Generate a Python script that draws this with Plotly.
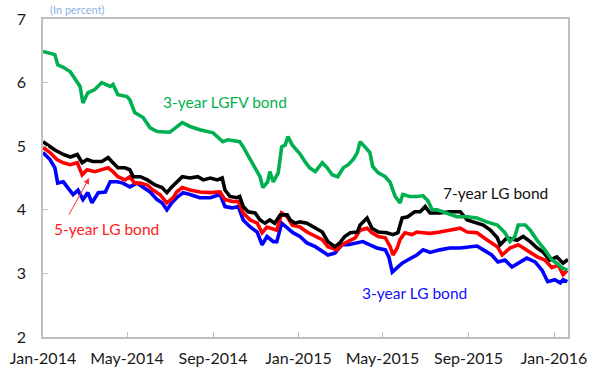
import plotly.graph_objects as go

# 3-year LGFV bond yield (per cent)
lgfv3_dates = ["2014-01-01", "2014-01-18", "2014-01-22", "2014-01-30", "2014-02-09", "2014-02-16", "2014-02-23",
               "2014-02-27", "2014-03-06", "2014-03-16", "2014-03-26", "2014-04-07", "2014-04-11", "2014-04-18",
               "2014-05-01", "2014-05-05", "2014-05-12", "2014-05-24", "2014-06-03", "2014-06-13", "2014-06-21",
               "2014-07-01", "2014-07-06", "2014-07-19", "2014-07-30", "2014-08-13", "2014-09-01", "2014-09-15",
               "2014-09-22", "2014-10-09", "2014-10-14", "2014-10-24", "2014-11-07", "2014-11-11", "2014-11-18",
               "2014-11-21", "2014-11-26", "2014-12-03", "2014-12-08", "2014-12-13", "2014-12-17", "2014-12-23",
               "2014-12-31", "2015-01-03", "2015-01-10", "2015-01-17", "2015-01-25", "2015-02-04", "2015-02-11",
               "2015-02-18", "2015-02-26", "2015-03-06", "2015-03-13", "2015-03-20", "2015-03-26", "2015-03-30",
               "2015-04-06", "2015-04-13", "2015-04-17", "2015-04-25", "2015-05-05", "2015-05-12", "2015-05-19",
               "2015-05-26", "2015-05-30", "2015-06-09", "2015-06-19", "2015-06-28", "2015-07-05", "2015-07-11",
               "2015-07-18", "2015-08-01", "2015-08-15", "2015-08-30", "2015-09-13", "2015-09-27", "2015-10-12",
               "2015-10-23", "2015-10-30", "2015-11-06", "2015-11-11", "2015-11-21", "2015-11-28", "2015-12-08",
               "2015-12-19", "2015-12-29", "2016-01-05", "2016-01-12", "2016-01-20"]
lgfv3_vals = [6.49, 6.44, 6.28, 6.24, 6.17, 6.05, 5.94,
              5.68, 5.84, 5.89, 6.00, 5.94, 5.97, 5.81,
              5.78, 5.73, 5.53, 5.45, 5.29, 5.23, 5.23,
              5.22, 5.26, 5.37, 5.31, 5.26, 5.21, 5.07,
              5.10, 5.07, 4.99, 4.79, 4.52, 4.35, 4.44,
              4.60, 4.44, 4.58, 4.99, 5.02, 5.15, 5.02,
              4.91, 4.88, 4.76, 4.66, 4.60, 4.74, 4.66,
              4.55, 4.52, 4.66, 4.71, 4.79, 4.90, 5.07,
              4.99, 4.90, 4.68, 4.58, 4.52, 4.43, 4.21,
              4.11, 4.24, 4.21, 4.21, 4.22, 4.14, 4.00,
              4.00, 3.95, 3.89, 3.89, 3.87, 3.81, 3.76,
              3.64, 3.50, 3.58, 3.76, 3.76, 3.68, 3.52,
              3.37, 3.21, 3.16, 3.09, 3.05]

# 7-year LG bond yield
lg7_dates = ["2014-01-01", "2014-01-11", "2014-01-18", "2014-01-30", "2014-02-09", "2014-02-19", "2014-02-26",
             "2014-03-05", "2014-03-13", "2014-03-26", "2014-04-04", "2014-04-11", "2014-04-18", "2014-04-28",
             "2014-05-05", "2014-05-10", "2014-05-20", "2014-05-30", "2014-06-10", "2014-06-20", "2014-06-27",
             "2014-07-04", "2014-07-11", "2014-07-19", "2014-07-30", "2014-08-10", "2014-08-18", "2014-08-28",
             "2014-09-07", "2014-09-14", "2014-09-18", "2014-09-25", "2014-10-05", "2014-10-09", "2014-10-14",
             "2014-10-21", "2014-10-31", "2014-11-07", "2014-11-14", "2014-11-21", "2014-11-28", "2014-12-06",
             "2014-12-16", "2014-12-20", "2014-12-27", "2015-01-03", "2015-01-13", "2015-01-25", "2015-02-04",
             "2015-02-12", "2015-02-22", "2015-03-01", "2015-03-08", "2015-03-16", "2015-03-26", "2015-03-30",
             "2015-04-09", "2015-04-16", "2015-04-25", "2015-05-07", "2015-05-16", "2015-05-23", "2015-05-29",
             "2015-06-06", "2015-06-16", "2015-06-24", "2015-07-01", "2015-07-08", "2015-07-22", "2015-08-05",
             "2015-08-20", "2015-08-30", "2015-09-07", "2015-09-22", "2015-10-02", "2015-10-12", "2015-10-16",
             "2015-10-26", "2015-11-09", "2015-11-18", "2015-11-28", "2015-12-08", "2015-12-16", "2015-12-26",
             "2016-01-05", "2016-01-14", "2016-01-21"]
lg7_vals = [5.07, 4.99, 4.94, 4.87, 4.83, 4.87, 4.74,
            4.79, 4.76, 4.76, 4.82, 4.74, 4.66, 4.66,
            4.63, 4.52, 4.52, 4.47, 4.39, 4.35, 4.27,
            4.36, 4.44, 4.52, 4.50, 4.52, 4.47, 4.50,
            4.47, 4.50, 4.31, 4.21, 4.19, 4.21, 4.05,
            3.97, 3.95, 3.84, 3.79, 3.84, 3.79, 3.92,
            3.92, 3.84, 3.79, 3.81, 3.79, 3.71, 3.65,
            3.50, 3.42, 3.48, 3.58, 3.64, 3.65, 3.76,
            3.87, 3.71, 3.65, 3.64, 3.61, 3.64, 3.87,
            3.89, 3.97, 3.97, 4.05, 3.95, 3.95, 3.97,
            3.97, 3.84, 3.81, 3.76, 3.68, 3.56, 3.45,
            3.56, 3.52, 3.58, 3.50, 3.40, 3.34, 3.21,
            3.26, 3.16, 3.22]

# 5-year LG bond yield
lg5_dates = ["2014-01-01", "2014-01-11", "2014-01-21", "2014-01-30", "2014-02-09", "2014-02-19", "2014-02-26",
             "2014-03-05", "2014-03-16", "2014-03-26", "2014-04-04", "2014-04-11", "2014-04-18", "2014-04-28",
             "2014-05-05", "2014-05-12", "2014-05-20", "2014-05-30", "2014-06-07", "2014-06-17", "2014-06-27",
             "2014-07-06", "2014-07-11", "2014-07-19", "2014-07-30", "2014-08-13", "2014-08-28", "2014-09-11",
             "2014-09-18", "2014-09-29", "2014-10-07", "2014-10-14", "2014-10-24", "2014-11-03", "2014-11-10",
             "2014-11-17", "2014-11-24", "2014-12-01", "2014-12-08", "2014-12-16", "2014-12-23", "2014-12-31",
             "2015-01-03", "2015-01-13", "2015-01-25", "2015-02-04", "2015-02-12", "2015-02-25", "2015-03-04",
             "2015-03-13", "2015-03-23", "2015-03-30", "2015-04-09", "2015-04-16", "2015-04-25", "2015-05-05",
             "2015-05-12", "2015-05-16", "2015-05-22", "2015-05-26", "2015-06-02", "2015-06-12", "2015-06-19",
             "2015-06-28", "2015-07-08", "2015-07-22", "2015-08-05", "2015-08-20", "2015-08-30", "2015-09-13",
             "2015-09-27", "2015-10-12", "2015-10-19", "2015-10-30", "2015-11-11", "2015-11-23", "2015-12-08",
             "2015-12-19", "2015-12-29", "2016-01-07", "2016-01-14", "2016-01-20"]
lg5_vals = [4.98, 4.90, 4.79, 4.74, 4.71, 4.74, 4.55,
            4.63, 4.60, 4.63, 4.66, 4.60, 4.52, 4.47,
            4.52, 4.42, 4.42, 4.39, 4.31, 4.24, 4.11,
            4.19, 4.28, 4.35, 4.31, 4.28, 4.27, 4.28,
            4.16, 4.13, 4.13, 3.95, 3.84, 3.79, 3.64,
            3.73, 3.71, 3.68, 3.95, 3.89, 3.76, 3.73,
            3.73, 3.65, 3.58, 3.53, 3.42, 3.37, 3.45,
            3.50, 3.56, 3.68, 3.71, 3.64, 3.58, 3.56,
            3.42, 3.29, 3.40, 3.53, 3.64, 3.61, 3.65,
            3.64, 3.63, 3.65, 3.68, 3.71, 3.65, 3.64,
            3.53, 3.42, 3.29, 3.40, 3.45, 3.37, 3.26,
            3.21, 3.09, 3.13, 2.98, 3.05]

# 3-year LG bond yield
lg3_dates = ["2014-01-01", "2014-01-11", "2014-01-18", "2014-01-22", "2014-01-30", "2014-02-06", "2014-02-13",
             "2014-02-20", "2014-02-27", "2014-03-06", "2014-03-12", "2014-03-21", "2014-03-31", "2014-04-07",
             "2014-04-17", "2014-04-25", "2014-05-05", "2014-05-15", "2014-05-24", "2014-06-03", "2014-06-13",
             "2014-06-20", "2014-06-27", "2014-07-04", "2014-07-11", "2014-07-20", "2014-07-30", "2014-08-13",
             "2014-08-28", "2014-09-11", "2014-09-18", "2014-09-28", "2014-10-07", "2014-10-14", "2014-10-24",
             "2014-11-03", "2014-11-10", "2014-11-17", "2014-11-26", "2014-12-01", "2014-12-08", "2014-12-17",
             "2014-12-24", "2015-01-03", "2015-01-13", "2015-01-25", "2015-02-04", "2015-02-12", "2015-02-22",
             "2015-03-04", "2015-03-13", "2015-03-23", "2015-04-03", "2015-04-13", "2015-04-23", "2015-05-05",
             "2015-05-10", "2015-05-15", "2015-05-22", "2015-05-29", "2015-06-06", "2015-06-19", "2015-06-28",
             "2015-07-08", "2015-07-22", "2015-08-05", "2015-08-20", "2015-09-03", "2015-09-13", "2015-09-22",
             "2015-10-04", "2015-10-13", "2015-10-23", "2015-11-02", "2015-11-13", "2015-11-23", "2015-12-05",
             "2015-12-15", "2015-12-23", "2016-01-02", "2016-01-10", "2016-01-14", "2016-01-20"]
lg3_vals = [4.90, 4.79, 4.66, 4.42, 4.44, 4.35, 4.24,
            4.31, 4.16, 4.27, 4.11, 4.27, 4.28, 4.44,
            4.44, 4.42, 4.36, 4.42, 4.35, 4.28, 4.16,
            4.11, 4.00, 4.11, 4.19, 4.27, 4.24, 4.19,
            4.19, 4.24, 4.05, 4.03, 4.05, 3.84, 3.73,
            3.65, 3.45, 3.58, 3.50, 3.50, 3.79, 3.71,
            3.64, 3.58, 3.48, 3.42, 3.34, 3.29, 3.32,
            3.45, 3.45, 3.48, 3.50, 3.45, 3.40, 3.37,
            3.26, 3.02, 3.10, 3.16, 3.21, 3.29, 3.37,
            3.33, 3.37, 3.40, 3.40, 3.42, 3.43, 3.37,
            3.29, 3.18, 3.21, 3.10, 3.18, 3.24, 3.18,
            3.05, 2.87, 2.90, 2.85, 2.90, 2.87]

FONT = "Lato, Open Sans, sans-serif"
GREEN = "#00B050"
RED = "#FF0000"
BLUE = "#0000FF"
BLACK = "#000000"

fig = go.Figure()
for dates, vals, color, name in [
    (lg3_dates, lg3_vals, BLUE, "3-year LG bond"),
    (lg5_dates, lg5_vals, RED, "5-year LG bond"),
    (lg7_dates, lg7_vals, BLACK, "7-year LG bond"),
    (lgfv3_dates, lgfv3_vals, GREEN, "3-year LGFV bond"),
]:
    fig.add_trace(go.Scatter(x=dates, y=vals, mode="lines", name=name,
                             line=dict(color=color, width=3.6), hoverinfo="skip"))

# series labels
labels = [
    ("2014-09-18", 5.69, "3-year LGFV bond", GREEN),
    ("2015-10-09", 4.27, "7-year LG bond", "#111111"),
    ("2014-04-02", 3.70, "5-year LG bond", "#FF2020"),
    ("2015-06-15", 2.69, "3-year LG bond", "#1010FF"),
]
for x, y, txt, col in labels:
    fig.add_annotation(x=x, y=y, text=txt, showarrow=False,
                       font=dict(family=FONT, size=15.5, color=col),
                       xanchor="center", yanchor="middle")

# pointer from the 5-year label to its line
fig.add_annotation(x="2014-03-08", y=4.50, text="", showarrow=True,
                   ax=-21, ay=38, arrowhead=2, arrowsize=1.2, arrowwidth=1,
                   arrowcolor="#FF3030")

# unit caption above the plot
fig.add_annotation(xref="paper", yref="paper", x=0.01, y=1.0, yshift=10,
                   text="(In percent)", showarrow=False,
                   xanchor="left", yanchor="middle",
                   font=dict(family=FONT, size=11, color="#8DB0DC"))

fig.update_layout(
    width=589, height=368,
    margin=dict(l=43, r=21, t=19, b=31),
    paper_bgcolor="white", plot_bgcolor="white",
    showlegend=False,
    font=dict(family=FONT, size=16, color="#1a1a1a"),
)
fig.update_xaxes(
    type="date", range=["2014-01-01", "2016-01-21"],
    tick0="2014-01-01", dtick="M4", tickformat="%b-%Y",
    ticks="inside", ticklen=5, tickcolor="#BFBFBF",
    showline=True, linecolor="#BFBFBF", linewidth=1.5, mirror=True,
    showgrid=False, zeroline=False, ticklabelstandoff=6, automargin=False,
)
fig.update_yaxes(
    range=[2, 7], dtick=1, tick0=2,
    ticks="inside", ticklen=5, tickcolor="#BFBFBF",
    showline=True, linecolor="#BFBFBF", linewidth=1.5, mirror=True,
    showgrid=False, zeroline=False, ticklabelstandoff=12, automargin=False,
)

fig.write_html("out.html")
